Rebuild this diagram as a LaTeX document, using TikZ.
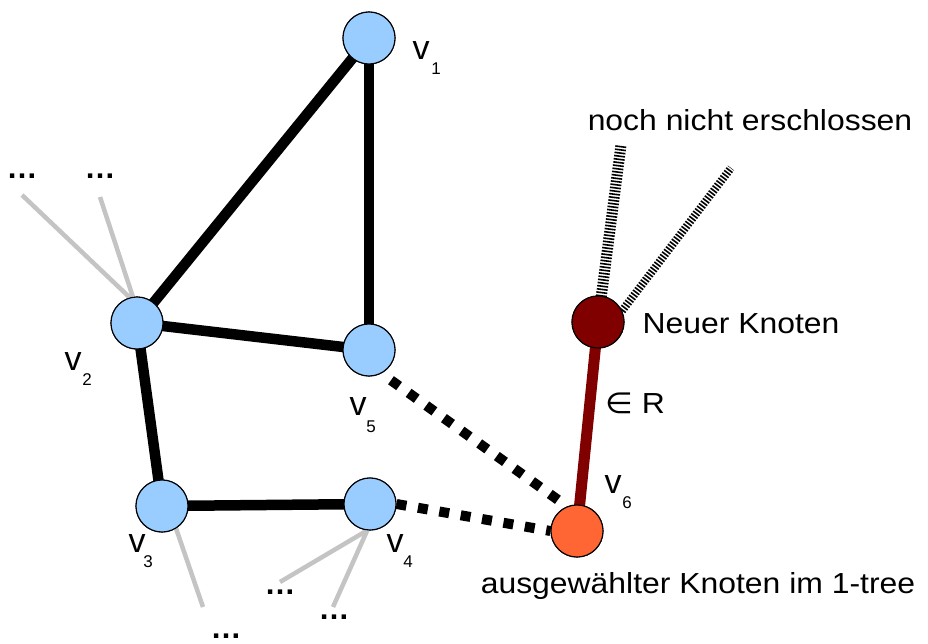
\documentclass[tikz,border=0pt]{standalone}
\usepackage{fontspec}
\setmainfont{Liberation Sans}
\newfontfamily\symfont{DejaVu Sans}
\usepackage{graphicx}

\definecolor{vblue}{HTML}{99CCFF}
\definecolor{vorange}{HTML}{FF6633}
\definecolor{vdarkred}{HTML}{800000}
\definecolor{sidegray}{HTML}{C4C4C4}

\newcommand{\wide}[1]{\scalebox{1.1}[1]{#1}}

\tikzset{
  vertex/.style={circle, draw=black, line width=1.1pt, minimum size=52pt, inner sep=0pt},
  oldvertex/.style={vertex, fill=vblue},
  tour/.style={line width=10.5pt, black},
  candidate/.style={line width=10pt, black, dash pattern=on 10pt off 11.7pt},
  redge/.style={line width=11pt, vdarkred},
  hatch/.style={black, dash pattern=on 1.6pt off 1.6pt},
  side/.style={line width=4.5pt, sidegray},
  caption/.style={anchor=base, inner sep=0pt, font=\fontsize{29}{34}\selectfont},
  vname/.style={anchor=base, inner sep=0pt, font=\fontsize{34}{40}\selectfont},
  vidx/.style={anchor=base, inner sep=0pt, font=\fontsize{17}{20}\selectfont},
  more/.style={anchor=base, inner sep=0pt, font=\fontsize{31}{36}\bfseries},
}

\begin{document}
\begin{tikzpicture}[x=1pt, y=-1pt]
\useasboundingbox (0,0) rectangle (928,644);

% vertex positions
\coordinate (p1) at (369,38);
\coordinate (p2) at (137,323);
\coordinate (p3) at (162,506);
\coordinate (p4) at (370,504);
\coordinate (p5) at (369,350);
\coordinate (p6) at (577,531);
\coordinate (pn) at (598,322);

% loose ends of the grey side edges and the unexplored edges
\coordinate (g1) at (22,195);
\coordinate (g2) at (100,197);
\coordinate (g3) at (203,607);
\coordinate (g4) at (280,582);
\coordinate (g5) at (333,607);
\coordinate (h1) at (621,145);
\coordinate (h2) at (731,168);

% vertices (placed first so edges can refer to them, drawn again on top)
\node[oldvertex] (v1) at (p1) {};
\node[oldvertex] (v2) at (p2) {};
\node[oldvertex] (v3) at (p3) {};
\node[oldvertex] (v4) at (p4) {};
\node[oldvertex] (v5) at (p5) {};
\node[vertex, fill=vorange] (v6) at (p6) {};
\node[vertex, fill=vdarkred] (nk) at (pn) {};

% grey edges leading elsewhere
\draw[side] (v2.106) -- (g1);
\draw[side] (v2.99) -- (g2);
\draw[side] (v3.-58) -- (g3);
\draw[side] (v4.-96) -- (g4);
\draw[side] (v4.-96) -- (g5);

% edges of the 1-tree
\draw[tour] (v1.center) -- (v2.center);
\draw[tour] (v1.center) -- (v5.center);
\draw[tour] (v2.center) -- (v5.center);
\draw[tour] (v2.center) -- (v3.center);
\draw[tour] (v3.center) -- (v4.center);

% candidate edges to the selected vertex
\draw[candidate, dash phase=10pt] (v5.-62) -- (v6.112);
\draw[candidate] (v4.east) -- (v6.west);

% edge in R to the new vertex
\draw[redge] (nk.center) -- (v6.center);

% unexplored edges of the new vertex
\draw[hatch, line width=11pt] (nk.center) -- (h1);
\draw[hatch, line width=8pt] (nk.25) -- (h2);

% vertices on top of the edges
\node[oldvertex] at (p1) {};
\node[oldvertex] at (p2) {};
\node[oldvertex] at (p3) {};
\node[oldvertex] at (p4) {};
\node[oldvertex] at (p5) {};
\node[vertex, fill=vorange] at (p6) {};
\node[vertex, fill=vdarkred] at (pn) {};

% vertex names
\node[vname] (l1) at (421,60) {v};  \node[vidx] (i1) at (436,75) {1};
\node[vname] (l2) at (73,370) {v};  \node[vidx] (i2) at (87,385) {2};
\node[vname] (l3) at (137,552) {v}; \node[vidx] (i3) at (148,567) {3};
\node[vname] (l4) at (395,552) {v}; \node[vidx] (i4) at (408,567) {4};
\node[vname] (l5) at (358,415) {v}; \node[vidx] (i5) at (371,432) {5};
\node[vname] (l6) at (613,493) {v}; \node[vidx] (i6) at (627,508) {6};

% ellipses at the loose ends
\node[more] (m1) at (22,179) {…};
\node[more] (m2) at (100,179) {…};
\node[more] (m3) at (226,638) {…};
\node[more] (m4) at (280,594) {…};
\node[more] (m5) at (334,619) {…};

% captions
\node[caption] (tnew) at (750,131) {\wide{noch nicht erschlossen}};
\node[caption] (tnk) at (741,333) {\wide{Neuer Knoten}};
\node[caption] (tr) at (635,413) {\wide{{\symfont ∈} R}};
\node[caption] (tsel) at (698,593) {\wide{ausgewählter Knoten im 1-tree}};
\end{tikzpicture}
\end{document}
